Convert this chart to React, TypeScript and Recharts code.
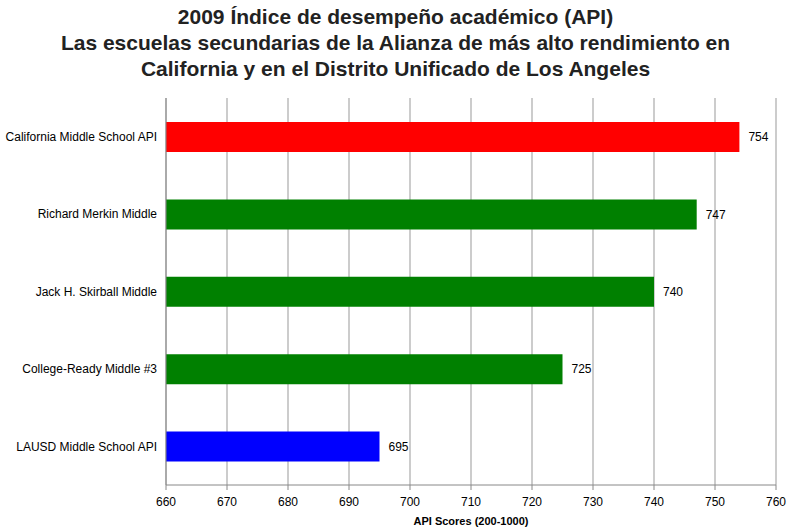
import { BarChart, Bar, XAxis, YAxis, CartesianGrid, Cell, LabelList, Label } from 'recharts'

const schools = [
  'California Middle School API',
  'Richard Merkin Middle',
  'Jack H. Skirball Middle',
  'College-Ready Middle #3',
  'LAUSD Middle School API',
]
const scores = [754, 747, 740, 725, 695]
const barColors = ['#ff0000', '#008000', '#008000', '#008000', '#0000ff']
const xTicks = [660, 670, 680, 690, 700, 710, 720, 730, 740, 750, 760]

const titleLines = [
  '2009 Índice de desempeño académico (API)',
  'Las escuelas secundarias de la Alianza de más alto rendimiento en',
  'California y en el Distrito Unificado de Los Angeles',
]

const FONT = '"Liberation Sans", Arial, Helvetica, sans-serif'

// plain text tick so long school names don't wrap
function SchoolTick({ x, y, payload }: any) {
  return (
    <text x={x} y={y} dy="0.35em" textAnchor="end" fontSize={12} fill="#000" fontFamily={FONT}>
      {payload.value}
    </text>
  )
}

export default function App() {
  const data = schools.map((name, i) => ({ name, score: scores[i] }))

  return (
    <div style={{ position: 'absolute', left: 0, top: 0, width: 791, height: 530, background: '#fff', fontFamily: FONT }}>
      <div style={{ position: 'absolute', left: 0, top: 4, width: 791, textAlign: 'center', fontWeight: 'bold', fontSize: 21, lineHeight: '26px', color: '#222' }}>
        {titleLines.map(t => <div key={t}>{t}</div>)}
      </div>
      <BarChart
        width={791}
        height={530}
        data={data}
        layout="vertical"
        barSize={30}
        margin={{ top: 98, right: 15, bottom: 5, left: 6 }}
      >
        <CartesianGrid horizontal={false} stroke="#999" />
        <XAxis
          type="number"
          domain={[660, 760]}
          ticks={xTicks}
          allowDataOverflow
          height={40}
          stroke="#888"
          tickSize={5}
          tickMargin={7}
          tick={{ fontSize: 12, fill: '#000', fontFamily: FONT }}
        >
          <Label
            value="API Scores (200-1000)"
            position="insideBottom"
            offset={0}
            style={{ fontSize: 11, fontWeight: 'bold', fill: '#000', fontFamily: FONT }}
          />
        </XAxis>
        <YAxis
          type="category"
          dataKey="name"
          width={160}
          stroke="#888"
          tickLine={false}
          tickSize={0}
          tickMargin={9}
          tick={<SchoolTick />}
        />
        <Bar dataKey="score" isAnimationActive={false}>
          {data.map((d, i) => (
            <Cell key={d.name} fill={barColors[i]} />
          ))}
          <LabelList
            dataKey="score"
            position="right"
            offset={9}
            style={{ fontSize: 12, fill: '#000', fontFamily: FONT }}
          />
        </Bar>
      </BarChart>
    </div>
  )
}
